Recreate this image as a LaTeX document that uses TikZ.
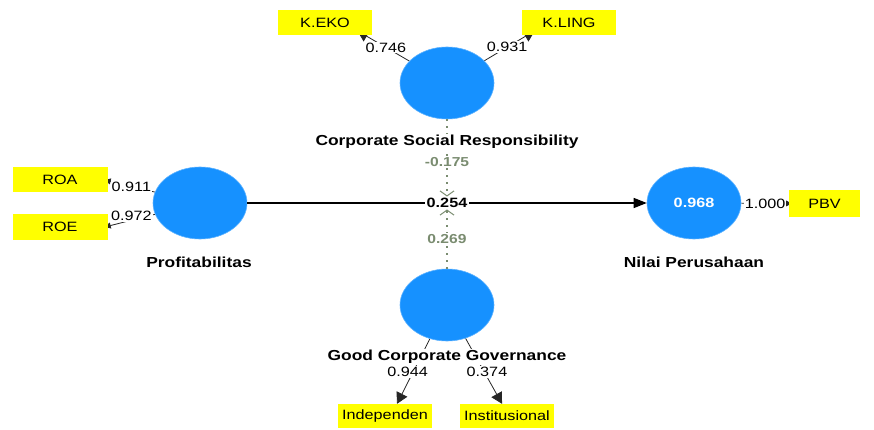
\documentclass[tikz,border=0pt]{standalone}
\usepackage{fontspec}
\setmainfont[FakeStretch=1.2]{Liberation Sans}
\usetikzlibrary{shapes.geometric,arrows.meta}
\definecolor{lv}{RGB}{22,145,255}
\definecolor{ind}{RGB}{255,255,0}
\definecolor{modc}{RGB}{122,140,112}
\pgfdeclarelayer{bg}
\pgfsetlayers{bg,main}
\begin{document}
\begin{tikzpicture}[x=1pt,y=-1pt,
  lvnode/.style={ellipse,fill=lv,draw=lv!70,line width=0.6pt,minimum width=94pt,minimum height=72pt,inner sep=0pt},
  indbox/.style={fill=ind,minimum width=94pt,minimum height=25pt,inner sep=0pt,font=\fontsize{13.5}{15}\selectfont},
  lvlabel/.style={fill=white,inner sep=1pt,font=\bfseries\fontsize{14.5}{17}\selectfont},
  load/.style={fill=white,inner sep=1pt,font=\fontsize{13.5}{15}\selectfont},
  loadarrow/.style={draw=black!85,line width=0.8pt,-{Triangle[width=12pt,length=11pt]}},
  smallarrow/.style={draw=black!85,line width=0.8pt,-{Triangle[width=6pt,length=6pt]}},
  patharrow/.style={draw=black,line width=1.4pt,-{Triangle[width=10pt,length=13pt]}},
  modline/.style={draw=modc,line width=2pt,dash pattern=on 2pt off 5pt,-{Straight Barb[length=5pt,width=14pt,line width=1pt]}},
  modlabel/.style={fill=white,inner sep=1pt,text=modc,font=\bfseries\fontsize{13}{15}\selectfont}]
\useasboundingbox (0,0) rectangle (874,430);
% latent variables
\node[lvnode] (csr) at (447,83) {};
\node[lvnode] (prof) at (200,203) {};
\node[lvnode] (nilai) at (694,203) {};
\node[lvnode] (gcg) at (447,305) {};
\node[font=\bfseries\fontsize{13.5}{15}\selectfont,text=white] (r2) at (nilai) {0.968};
% indicators
\node[indbox] (keko) at (325,23) {K.EKO};
\node[indbox] (kling) at (569,23) {K.LING};
\node[indbox,minimum width=95pt] (roa) at (60,180) {ROA};
\node[indbox,minimum width=95pt,minimum height=26pt] (roe) at (60,227) {ROE};
\node[indbox,minimum width=71pt,minimum height=27pt] (pbv) at (824.5,203.5) {PBV};
\node[indbox,minimum height=24pt] (indep) at (385,416) {Independen};
\node[indbox,minimum height=24pt] (inst) at (507,416) {Institusional};
% structural path
\draw[patharrow] (prof) -- (nilai);
\node[fill=white,inner sep=1.5pt,font=\bfseries\fontsize{13.5}{15}\selectfont] (p254) at (447,203) {0.254};
% loading lines (behind boxes and labels)
\begin{pgfonlayer}{bg}
\draw[loadarrow] (csr) -- ([xshift=-15pt,yshift=5pt]keko.south east) coordinate (kekoend);
\draw[loadarrow] (csr) -- ([xshift=13pt,yshift=5pt]kling.south west) coordinate (klingend);
\draw[smallarrow] (prof) -- ([xshift=-3pt]roa.east);
\draw[smallarrow] (prof) -- ([xshift=-3pt]roe.east);
\draw[smallarrow] (nilai) -- ([xshift=3pt]pbv.west);
\draw[loadarrow] (gcg) -- ([xshift=12pt]indep.north);
\draw[loadarrow] (gcg) -- ([xshift=-5pt]inst.north);
\end{pgfonlayer}
% moderating paths
\draw[modline] (csr) -- (p254.north) node[modlabel,pos=0.55] {-0.175};
\draw[modline] (gcg) -- (p254.south) node[modlabel,pos=0.5] {0.269};
% latent labels
\node[lvlabel] (csrl) at (447,142) {Corporate Social Responsibility};
\node[lvlabel] (profl) at (199,262) {Profitabilitas};
\node[lvlabel] (nilail) at (694,262) {Nilai Perusahaan};
\node[lvlabel] (gcgl) at (447,357) {Good Corporate Governance};
% loading labels
\path (csr) -- (kekoend) node[load,pos=0.45] {0.746};
\path (csr) -- (klingend) node[load,pos=0.45] {0.931};
\path (prof) -- (roa.east) node[load,pos=0.5,yshift=-1pt] {0.911};
\path (prof) -- (roe.east) node[load,pos=0.5,yshift=5pt] {0.972};
\path (nilai) -- (pbv.west) node[load,pos=0.5] {1.000};
\path (gcg) -- (indep.north) node[load,pos=0.55,xshift=4pt,yshift=2pt] {0.944};
\path (gcg) -- (inst.north) node[load,pos=0.55,xshift=-2pt,yshift=2pt] {0.374};
\end{tikzpicture}
\end{document}
